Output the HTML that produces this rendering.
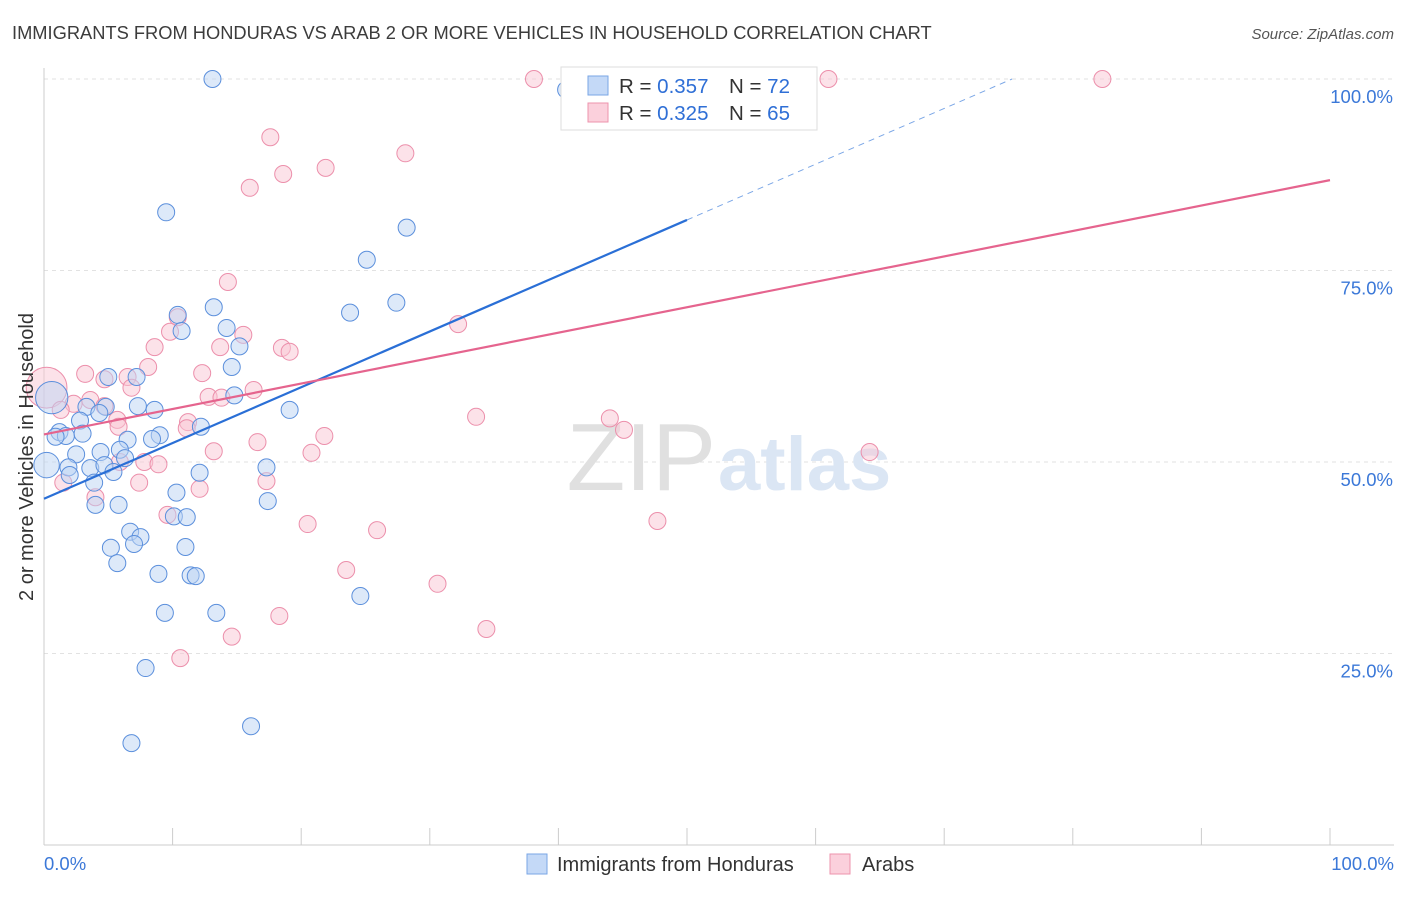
<!DOCTYPE html>
<html><head><meta charset="utf-8"><style>
body{margin:0;background:#fff;font-family:"Liberation Sans",sans-serif;}
svg text{font-family:"Liberation Sans",sans-serif;}
</style></head><body>
<svg id="chart" width="1406" height="892" viewBox="0 0 1406 892" xmlns="http://www.w3.org/2000/svg">
<text x="12" y="39" font-size="18.3" fill="#3c3c3c">IMMIGRANTS FROM HONDURAS VS ARAB 2 OR MORE VEHICLES IN HOUSEHOLD CORRELATION CHART</text>
<text x="1394" y="39" font-size="15" fill="#555" text-anchor="end" font-style="italic">Source: ZipAtlas.com</text>
<g id="grid"></g>
<text x="716" y="490" font-size="96" text-anchor="end" fill="#e0e0e0" font-family="Liberation Serif">ZIP</text>
<text x="718" y="490" font-size="76" fill="#dbe6f4" font-weight="bold">atlas</text>
<g id="axes"></g>
<g id="pts"></g>
<g id="lines"></g>
<text transform="translate(33,457) rotate(-90)" font-size="20" fill="#333" text-anchor="middle">2 or more Vehicles in Household</text>
<g>
<rect x="561" y="67" width="256" height="63" fill="#fff" stroke="#ddd"/>
<rect x="588" y="76" width="20" height="19" fill="#c4d9f7" stroke="#7aa6e6"/>
<rect x="588" y="103" width="20" height="19" fill="#fbd0dc" stroke="#ee93ad"/>
<text x="619" y="93" font-size="20.5" fill="#333">R = <tspan fill="#2f6fd6">0.357</tspan></text>
<text x="729" y="93" font-size="20.5" fill="#333">N = <tspan fill="#2f6fd6">72</tspan></text>
<text x="619" y="120" font-size="20.5" fill="#333">R = <tspan fill="#2f6fd6">0.325</tspan></text>
<text x="729" y="120" font-size="20.5" fill="#333">N = <tspan fill="#2f6fd6">65</tspan></text>
</g>
<g>
<rect x="527" y="854" width="20" height="20" fill="#c4d9f7" stroke="#7aa6e6"/>
<text x="557" y="871" font-size="20" fill="#333">Immigrants from Honduras</text>
<rect x="830" y="854" width="20" height="20" fill="#fbd0dc" stroke="#ee93ad"/>
<text x="862" y="871" font-size="20" fill="#333">Arabs</text>
</g>
</svg>
<script>
const blueX=[13.1,40.6,9.5,28.2,25.1,27.4,23.8,13.2,10.4,10.7,14.2,15.2,14.6,5.0,7.2,14.8,19.1,7.3,8.6,4.8,3.3,4.3,2.8,1.2,1.7,0.9,3.0,12.2,9.0,8.4,6.5,5.9,6.3,4.4,2.5,0.2,1.9,3.6,4.7,5.4,17.3,12.1,2.0,3.9,10.3,17.4,4.0,5.8,10.1,11.1,6.7,7.5,5.2,7.0,11.0,5.7,8.9,11.4,11.8,24.6,9.4,13.4,7.9,16.1,6.8,0.6];
const blueY=[100,98.6,82.6,80.6,76.4,70.8,69.5,70.2,69.2,67.1,67.5,65.1,62.4,61.1,61.1,58.7,56.8,57.3,56.8,57.2,57.2,56.4,55.4,53.9,53.4,53.3,53.7,54.6,53.5,53.0,52.9,51.6,50.5,51.3,51.0,49.6,49.3,49.2,49.6,48.7,49.3,48.6,48.3,47.3,46.0,44.9,44.4,44.4,42.9,42.8,40.9,40.2,38.8,39.3,38.9,36.8,35.4,35.2,35.1,32.5,30.3,30.3,23.1,15.5,13.3,58.4];
const blueSize=[1,1,1,1,1,1,1,1,1,1,1,1,1,1,1,1,1,1,1,1,1,1,1,1,1,1,1,1,1,1,1,1,1,1,1,1.5,1,1,1,1,1,1,1,1,1,1,1,1,1,1,1,1,1,1,1,1,1,1,1,1,1,1,1,1,1,1.9];
const pinkX=[38.1,47.0,61.0,82.3,17.6,28.1,21.9,18.6,16.0,14.3,32.2,10.4,9.8,15.5,13.7,8.6,18.5,19.1,8.1,3.2,12.3,6.5,4.7,0.2,6.8,16.3,12.8,13.8,3.6,2.3,4.7,1.3,5.7,5.8,11.2,33.6,44.0,45.1,11.1,21.8,16.6,13.2,20.8,7.8,8.9,5.9,64.2,1.5,7.4,12.1,4.0,17.3,9.6,20.5,25.9,47.7,23.5,30.6,18.3,34.4,14.6,10.6];
const pinkY=[100,100,100,100,92.4,90.3,88.4,87.6,85.8,73.5,68.0,68.9,67.0,66.6,65.0,65.0,64.9,64.4,62.4,61.5,61.6,61.1,60.8,59.7,59.7,59.4,58.5,58.4,58.1,57.6,57.3,56.8,55.5,54.6,55.2,55.9,55.7,54.2,54.4,53.4,52.6,51.4,51.2,50.0,49.7,50.0,51.3,47.3,47.3,46.5,45.4,47.5,43.1,41.9,41.1,42.3,35.9,34.1,29.9,28.2,27.2,24.4];
const pinkSize=[1,1,1,1,1,1,1,1,1,1,1,1,1,1,1,1,1,1,1,1,1,1,1,2.4,1,1,1,1,1,1,1,1,1,1,1,1,1,1,1,1,1,1,1,1,1,1,1,1,1,1,1,1,1,1,1,1,1,1,1,1,1,1];
const blueTrend=[45.2,81.6];   // y at x=0 and x=50
const pinkTrend=[53.6,86.8];   // y at x=0 and x=100
const yTicks=[25,50,75,100];
const yTickLabels=["25.0%","50.0%","75.0%","100.0%"];
const xTickVals=[0,10,20,30,40,50,60,70,80,90,100];

const NS="http://www.w3.org/2000/svg";
const X=v=>44+v*12.86, Y=v=>845-v*7.66;
function mk(p,tag,a){const e=document.createElementNS(NS,tag);for(const k in a)e.setAttribute(k,a[k]);p.appendChild(e);return e;}
const grid=document.getElementById('grid'),axes=document.getElementById('axes'),pts=document.getElementById('pts'),lines=document.getElementById('lines');
yTicks.forEach((t,i)=>{
  const l=mk(grid,'line',{x1:44,x2:1394,y1:Y(t),y2:Y(t),stroke:'#e2e2e2','stroke-dasharray':'4,4'});
  
  
  const tx=mk(axes,'text',{x:1393,y:Y(t)+24,'font-size':18.5,fill:'#3b78d8','text-anchor':'end'});
  tx.textContent=yTickLabels[i];
  
  
});
const ax=mk(axes,'line',{x1:44,x2:1394,y1:845,y2:845,stroke:'#ccc'});


const ay=mk(axes,'line',{x1:44,x2:44,y1:68,y2:845,stroke:'#ccc'});


xTickVals.forEach(v=>{
  const t=mk(axes,'line',{x1:X(v),x2:X(v),y1:828,y2:845,stroke:'#ccc'});
  
  
});
[[0,"0.0%","start",44],[100,"100.0%","end",1394]].forEach(a=>{
  const t=mk(axes,'text',{x:a[3],y:870,'font-size':18.5,fill:'#3b78d8','text-anchor':a[2]});
  t.textContent=a[1];
  
  
});
function dots(xs,ys,ss,fill,stroke,name){
  xs.forEach((x,i)=>{
    const c=mk(pts,'circle',{cx:X(x),cy:Y(ys[i]),r:8.5*ss[i],fill:fill,'fill-opacity':0.5,stroke:stroke,'stroke-width':1});
    
    
  });
}
dots(pinkX,pinkY,pinkSize,'#f9c6d4','#ec8fab','arab-point');
dots(blueX,blueY,blueSize,'#bcd4f4','#5b8fdc','honduras-point');
const slope=(blueTrend[1]-blueTrend[0])/50;
const bl=mk(lines,'line',{x1:X(0),y1:Y(blueTrend[0]),x2:X(50),y2:Y(blueTrend[1]),stroke:'#2a6fd6','stroke-width':2.2});


const xEnd=(100-blueTrend[0])/slope;
const bd=mk(lines,'line',{x1:X(50),y1:Y(blueTrend[1]),x2:X(xEnd),y2:Y(100),stroke:'#7aa6e6','stroke-width':1,'stroke-dasharray':'6,5'});


const pl=mk(lines,'line',{x1:X(0),y1:Y(pinkTrend[0]),x2:X(100),y2:Y(pinkTrend[1]),stroke:'#e5648e','stroke-width':2.2});


</script>
</body></html>
